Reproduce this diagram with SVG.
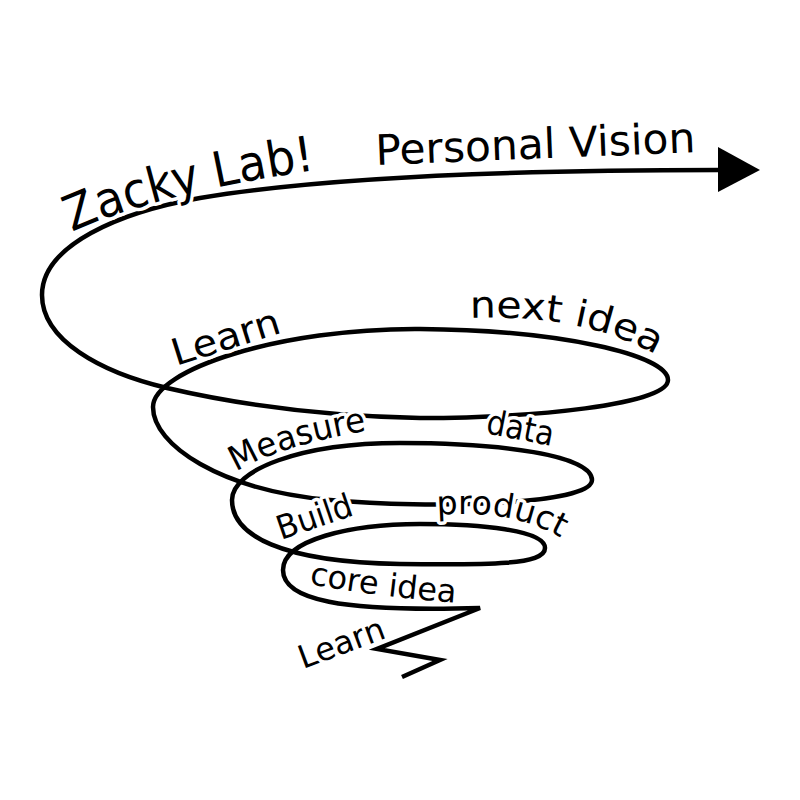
<svg xmlns="http://www.w3.org/2000/svg" xmlns:xlink="http://www.w3.org/1999/xlink" width="800" height="800" viewBox="0 0 800 800">
  <style>
    .line { fill: none; stroke: #000; stroke-width: 4.5; stroke-linejoin: miter; stroke-linecap: butt; }
    .lbl { font-family: "DejaVu Sans", "Open Sans", sans-serif; fill: #000; stroke: #fff; stroke-width: 7; paint-order: stroke; stroke-linejoin: round; }
  </style>
  <defs>
    <path id="pZacky" d="M 72,232 C 120,210 200,186 330,168"/>
    <path id="pVision" d="M 376,165 L 700,152"/>
    <path id="pLearn1" d="M 176,366 L 290,330"/>
    <path id="pNext" d="M 470,318 C 530,316 600,322 660,357"/>
    <path id="pMeasure" d="M 236,472 Q 280,445 372,430"/>
    <path id="pData" d="M 485,433 L 556,447"/>
    <path id="pBuild" d="M 281,540 L 360,513"/>
    <path id="pProduct" d="M 437,515 C 480,512 520,514 565,540"/>
    <path id="pCore" d="M 309,584 Q 380,597 460,603"/>
    <path id="pLearn2" d="M 303,669 L 392,636"/>
  </defs>

  <rect width="800" height="800" fill="#fff"/>

  <g id="connectors">
    <path id="spiral" class="line" d="M 720,170
      C 520,170 330,176 200,198
      C 120,212 42,245 42,295
      C 42,340 100,372 167,388
      C 240,405 320,416 420,418
      C 530,418 668,405 668,380
      C 668,355 560,330 420,329
      C 280,328 153,370 153,407
      C 153,445 220,490 330,500
      C 430,509 592,505 592,480
      C 592,455 500,443 400,443
      C 300,443 232,470 232,500
      C 232,535 280,562 400,564
      C 490,565 545,565 545,548
      C 545,530 480,524 420,524
      C 350,524 283,540 283,570
      C 283,600 340,612 480,608
      L 377,649 L 440,660 L 402,677"/>
    <polygon id="arrowhead" points="718,147 760,170 718,192" fill="#000"/>
  </g>

  <g id="title">
    <text class="lbl" font-size="49"><textPath xlink:href="#pZacky" href="#pZacky" textLength="252" lengthAdjust="spacingAndGlyphs">Zacky Lab!</textPath></text>
    <text class="lbl" font-size="42"><textPath xlink:href="#pVision" href="#pVision" textLength="320" lengthAdjust="spacingAndGlyphs">Personal Vision</textPath></text>
  </g>
  <g id="loop1">
    <text class="lbl" font-size="37"><textPath xlink:href="#pLearn1" href="#pLearn1" textLength="112" lengthAdjust="spacingAndGlyphs">Learn</textPath></text>
    <text class="lbl" font-size="37"><textPath xlink:href="#pNext" href="#pNext" textLength="192" lengthAdjust="spacingAndGlyphs">next idea</textPath></text>
  </g>
  <g id="loop2">
    <text class="lbl" font-size="34"><textPath xlink:href="#pMeasure" href="#pMeasure" textLength="138" lengthAdjust="spacingAndGlyphs">Measure</textPath></text>
    <text class="lbl" font-size="34"><textPath xlink:href="#pData" href="#pData" textLength="68" lengthAdjust="spacingAndGlyphs">data</textPath></text>
  </g>
  <g id="loop3">
    <text class="lbl" font-size="33"><textPath xlink:href="#pBuild" href="#pBuild" textLength="78" lengthAdjust="spacingAndGlyphs">Build</textPath></text>
    <text class="lbl" font-size="33"><textPath xlink:href="#pProduct" href="#pProduct" textLength="128" lengthAdjust="spacingAndGlyphs">product</textPath></text>
  </g>
  <g id="loop4">
    <text class="lbl" font-size="32"><textPath xlink:href="#pCore" href="#pCore" textLength="148" lengthAdjust="spacingAndGlyphs">core idea</textPath></text>
    <text class="lbl" font-size="32"><textPath xlink:href="#pLearn2" href="#pLearn2" textLength="90" lengthAdjust="spacingAndGlyphs">Learn</textPath></text>
  </g>
</svg>
